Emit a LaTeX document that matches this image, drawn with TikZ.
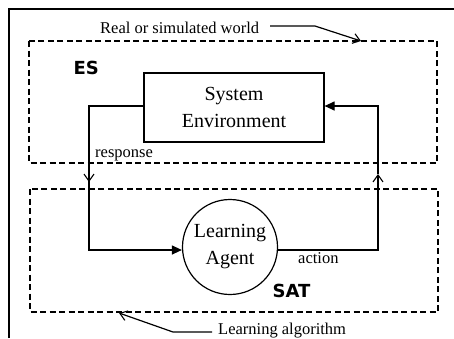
\documentclass[tikz,border=0pt]{standalone}
\usepackage{fontspec}
\setmainfont{Liberation Serif}
\newfontfamily\tagfont{DejaVu Sans}
\usetikzlibrary{arrows.meta}
\tikzset{
  frame/.style={line width=1.4pt},
  group/.style={draw, line width=1.2pt, dash pattern=on 6pt off 3.5pt},
  link/.style={line width=1.2pt},
  mainfont/.style={font=\fontsize{20}{27}\selectfont, align=center},
  lbl/.style={font=\fontsize{16.5}{18}\selectfont, inner sep=0pt, anchor=base west},
  tag/.style={font=\tagfont\bfseries\fontsize{18}{20}\selectfont, inner sep=0pt, anchor=base west},
  fill tip/.style={-{Triangle[length=10pt,width=9pt]}},
  open tip/.style={-{Straight Barb[length=7pt,width=10pt,line width=1.1pt]}},
}
\begin{document}
\begin{tikzpicture}[x=1pt,y=-1pt]
\useasboundingbox (0,0) rectangle (454,338);
% outer frame
\draw[frame] (9,338) -- (9,9) -- (454,9);
% dashed groups
\draw[group] (29,41) rectangle (437,163);
\draw[group] (30,189) rectangle (438,312);
% system environment
\node[draw, line width=1.2pt, minimum width=180pt, minimum height=69pt, mainfont] (env) at (234,107.5) {System\\Environment};
% learning agent
\node[draw, circle, line width=1.2pt, minimum size=95pt, inner sep=0pt, mainfont] (agent) at (230,247) {Learning\\Agent};
% coordinates
\coordinate (lt) at (89,106);
\coordinate (lm) at (89,182);
\coordinate (lb) at (89,250);
\coordinate (rb) at (378,250);
\coordinate (rm) at (378,174);
\coordinate (rt) at (378,106);
% response loop
\draw[link] (env.west |- lt) -- (lt) -- (lm);
\draw[link, open tip] (lt) -- (lm);
\draw[link, fill tip] (lm) -- (lb) -- (agent.west |- lb);
% action loop
\draw[link, open tip] (agent.east |- rb) -- (rb) -- (rm);
\draw[link, fill tip] (rm) -- (rt) -- (env.east |- rt);
% labels
\node[lbl] (resp) at (95,157) {response};
\node[lbl] (act) at (298,263) {action};
\node[tag] (es) at (73.5,74) {ES};
\node[tag] (sat) at (272.5,297) {SAT};
% world annotation
\node[lbl] (world) at (100,33) {Real or simulated world};
\coordinate (w1) at (270,26);
\coordinate (w2) at (315,26);
\coordinate (w3) at (361,41);
\draw[link, open tip] (w1) -- (w2) -- (w3);
% algorithm annotation
\node[lbl] (alg) at (218,334) {Learning algorithm};
\coordinate (a1) at (212,332);
\coordinate (a2) at (173,332);
\coordinate (a3) at (119,313);
\draw[link, open tip] (a1) -- (a2) -- (a3);
\end{tikzpicture}
\end{document}
